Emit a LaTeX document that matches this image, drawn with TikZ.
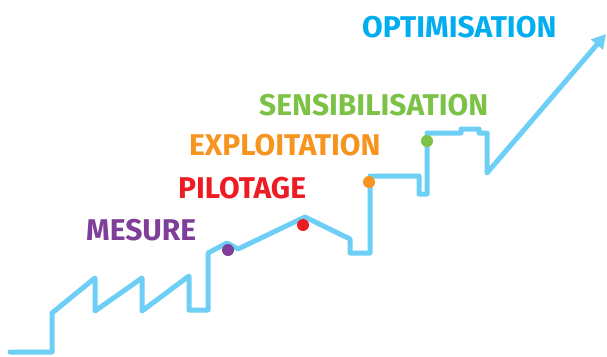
\documentclass[tikz,border=0pt]{standalone}
\usepackage{fontspec}
\setmainfont{Fira Sans}
\usetikzlibrary{arrows.meta}
\definecolor{lineblue}{RGB}{109,207,246}
\definecolor{optblue}{RGB}{0,174,239}
\definecolor{sgreen}{RGB}{124,194,70}
\definecolor{eorange}{RGB}{247,148,29}
\definecolor{pred}{RGB}{237,28,36}
\definecolor{mpurple}{RGB}{127,63,152}
\tikzset{
  stairline/.style={draw=lineblue,line width=5pt,line join=round,line cap=round},
  lab/.style={anchor=west,inner sep=0pt,font=\bfseries\fontsize{30}{34}\selectfont},
  stepdot/.style={circle,inner sep=0pt,minimum size=12pt}
}
\begin{document}
\begin{tikzpicture}[x=1pt,y=-1pt]
\useasboundingbox (0,0) rectangle (607,356);
\draw[stairline,-{Triangle[length=14pt,width=15pt]}]
 (10,352) -- (52,352) -- (52,313) -- (95,278) -- (95,311) -- (142,278) -- (142,311)
 -- (189,276) -- (189,310) -- (208,310) -- (208,253) -- (227,243) -- (238,249)
 -- (305,217) -- (350,239) -- (350,253) -- (370,253) -- (370,176) -- (419,176)
 -- (419,194) -- (427,194) -- (427,133) -- (461,133) -- (461,129) -- (479,129)
 -- (479,133) -- (487,133) -- (487,173) -- (606,34);
\node[stepdot,fill=mpurple] (dm) at (228,250) {};
\node[stepdot,fill=pred] (dp) at (303,225) {};
\node[stepdot,fill=eorange] (de) at (369,182) {};
\node[stepdot,fill=sgreen] (ds) at (427,141) {};
\node[lab,text=optblue] (lo) at (362,27) {OPTIMISATION};
\node[lab,text=sgreen] (ls) at (259,105) {SENSIBILISATION};
\node[lab,text=eorange] (le) at (189,145) {EXPLOITATION};
\node[lab,text=pred] (lp) at (178,188) {PILOTAGE};
\node[lab,text=mpurple] (lm) at (86,230) {MESURE};
\end{tikzpicture}
\end{document}
